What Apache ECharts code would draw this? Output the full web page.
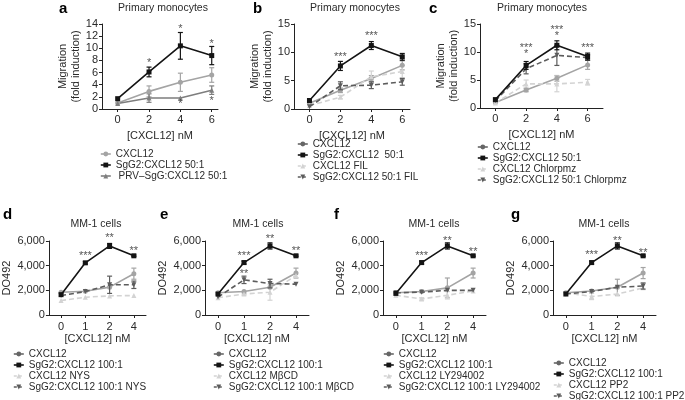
<!DOCTYPE html>
<html><head><meta charset="utf-8">
<script src="https://cdn.jsdelivr.net/npm/echarts@6/dist/echarts.min.js"></script>
<style>html,body{margin:0;padding:0;background:#fff}#c{width:685px;height:400px}</style>
</head><body><div id="c"></div>
<script>
// ---------- DATA ----------
const topX = [0, 2, 4, 6];
const botCats = ['0', '1', '2', '4'];

// Panel a (Migration, fold induction)
const a_CXCL12 = [1.0, 2.9, 4.4, 5.6];      const a_CXCL12_err = [0, 0.9, 1.5, 1.2];
const a_SgG2 = [1.7, 6.1, 10.4, 8.8];       const a_SgG2_err = [0, 0.8, 2.2, 1.5];
const a_PRV = [0.9, 1.8, 1.8, 3.1];         const a_PRV_err = [0, 0.7, 0, 0.7];
const a_notes = [[2, 7.6, '*'], [4, 13.1, '*'], [6, 10.7, '*'], [4, 0.8, '*'], [6, 1.4, '*']];

// Panel b
const b_CXCL12 = [1.0, 3.3, 5.4, 7.7];      const b_CXCL12_err = [0, 0.4, 0.5, 0.8];
const b_SgG2 = [1.5, 7.6, 11.2, 9.2];       const b_SgG2_err = [0, 0.8, 0.7, 0.6];
const b_FIL = [0.6, 2.1, 5.7, 6.6];         const b_FIL_err = [0, 0.3, 1.0, 1.1];
const b_SgG2FIL = [0.4, 4.1, 4.2, 4.8];     const b_SgG2FIL_err = [0, 0.7, 0.6, 0.6];
const b_notes = [[2, 9.2, '***'], [4, 12.8, '***']];

// Panel c
const c_CXCL12 = [1.0, 3.2, 5.3, 7.7];      const c_CXCL12_err = [0, 0.3, 0.5, 0.8];
const c_SgG2 = [1.5, 7.6, 11.2, 9.2];       const c_SgG2_err = [0, 0.7, 0.8, 0.6];
const c_Chl = [0.9, 4.3, 4.3, 4.6];         const c_Chl_err = [0, 0.7, 1.4, 0.5];
const c_SgG2Chl = [1.3, 7.0, 9.4, 9.0];     const c_SgG2Chl_err = [0, 0.9, 1.8, 0.5];
const c_notes = [[2, 10.7, '***'], [2, 9.6, '*'], [4, 14.0, '***'], [4, 12.9, '*'], [6, 10.7, '***']];

// Panel d (MM-1 cells, DO492)
const d_CXCL12 = [1850, 1930, 2260, 3350];  const d_CXCL12_err = [0, 0, 0, 450];
const d_SgG2 = [1650, 4230, 5600, 4800];    const d_SgG2_err = [0, 100, 200, 60];
const d_NYS = [1170, 1440, 1550, 1580];     const d_NYS_err = [0, 0, 0, 0];
const d_SgG2NYS = [1580, 1900, 2450, 2450]; const d_SgG2NYS_err = [0, 0, 700, 300];
const d_notes = [[1, 4750, '***'], [2, 6250, '**'], [3, 5230, '**']];

// Panel e
const e_CXCL12 = [1800, 1900, 2250, 3400];  const e_CXCL12_err = [0, 0, 0, 400];
const e_SgG2 = [1700, 4250, 5600, 4800];    const e_SgG2_err = [0, 120, 250, 60];
const e_MBCD = [1400, 1700, 1850, 3200];    const e_MBCD_err = [0, 100, 650, 0];
const e_SgG2MBCD = [1450, 2850, 2550, 2500];const e_SgG2MBCD_err = [0, 300, 350, 0];
const e_notes = [[1, 4750, '***'], [1, 3350, '**'], [2, 6150, '**'], [3, 5230, '**']];

// Panel f
const f_CXCL12 = [1800, 1900, 2200, 3400];  const f_CXCL12_err = [0, 0, 800, 400];
const f_SgG2 = [1750, 4250, 5600, 4800];    const f_SgG2_err = [0, 120, 250, 60];
const f_LY = [1600, 1300, 1600, 1950];      const f_LY_err = [0, 100, 300, 0];
const f_SgG2LY = [1800, 1850, 2000, 2000];  const f_SgG2LY_err = [0, 0, 0, 0];
const f_notes = [[1, 4780, '***'], [2, 6000, '**'], [3, 5100, '**']];

// Panel g
const g_CXCL12 = [1800, 1950, 2250, 3400];  const g_CXCL12_err = [0, 0, 650, 450];
const g_SgG2 = [1700, 4250, 5600, 4800];    const g_SgG2_err = [0, 120, 250, 60];
const g_PP2 = [1800, 1500, 1700, 2200];     const g_PP2_err = [0, 250, 0, 0];
const g_SgG2PP2 = [1700, 1900, 2250, 2350]; const g_SgG2PP2_err = [0, 0, 0, 250];
const g_notes = [[1, 4830, '***'], [2, 6000, '**'], [3, 5020, '**']];

// ---------- STYLE ----------
const FONT = "'Liberation Sans', Arial, sans-serif";
const AX = '#222', TXT = '#2a2a2a';
const BLACK = '#141414', DARK = '#5c5c5c', MID = '#a4a4a4', LIGHT = '#d3d3d3', PRVC = '#7e7e7e', LEGC = '#666666';
const TRI_DOWN = 'path://M0,0L10,0L5,9Z';

function S(name, data, err, color, symbol, dashed, legendColor, z, size) {
  return {name, data, err, color, symbol, dashed, legendColor: legendColor || color, z: z || 2, size: size || 5};
}

const panels = [
  {id: 'a', top: true, grid: {left: 102, top: 24, width: 116, height: 85}, xmin: -1, xmax: 6.4, ymax: 14, yint: 2,
   letter: [59, 1], title: [163, 3, 'Primary monocytes'], legend: [100, 149], notes: a_notes,
   series: [S('CXCL12', a_CXCL12, a_CXCL12_err, MID, 'circle', false),
            S('SgG2:CXCL12 50:1', a_SgG2, a_SgG2_err, BLACK, 'rect', false, null, 4),
            S(' PRV–SgG:CXCL12 50:1', a_PRV, a_PRV_err, PRVC, 'triangle', false)]},
  {id: 'b', top: true, grid: {left: 294, top: 24, width: 116, height: 85}, xmin: -1, xmax: 6.5, ymax: 15, yint: 5,
   letter: [253, 1], title: [355, 3, 'Primary monocytes'], legend: [297, 139], notes: b_notes,
   series: [S('CXCL12', b_CXCL12, b_CXCL12_err, MID, 'circle', false, LEGC),
            S('SgG2:CXCL12  50:1', b_SgG2, b_SgG2_err, BLACK, 'rect', false, null, 4),
            S('CXCL12 FIL', b_FIL, b_FIL_err, LIGHT, 'triangle', true),
            S('SgG2:CXCL12 50:1 FIL', b_SgG2FIL, b_SgG2FIL_err, DARK, TRI_DOWN, true, null, 3)]},
  {id: 'c', top: true, grid: {left: 480, top: 24, width: 123, height: 84}, xmin: -1, xmax: 7, ymax: 15, yint: 5,
   letter: [429, 1], title: [542, 3, 'Primary monocytes'], legend: [477, 142], notes: c_notes,
   series: [S('CXCL12', c_CXCL12, c_CXCL12_err, MID, 'circle', false, LEGC),
            S('SgG2:CXCL12 50:1', c_SgG2, c_SgG2_err, BLACK, 'rect', false, null, 4),
            S('CXCL12 Chlorpmz', c_Chl, c_Chl_err, LIGHT, 'triangle', true),
            S('SgG2:CXCL12 50:1 Chlorpmz', c_SgG2Chl, c_SgG2Chl_err, DARK, TRI_DOWN, true, null, 3)]},
  {id: 'd', top: false, grid: {left: 46, top: 241, width: 100, height: 74}, ymax: 6000, yint: 2000,
   letter: [3, 207], title: [96, 219, 'MM-1 cells'], legend: [13, 349], notes: d_notes, nameGap: 15,
   series: [S('CXCL12', d_CXCL12, d_CXCL12_err, MID, 'circle', false, LEGC),
            S('SgG2:CXCL12 100:1', d_SgG2, d_SgG2_err, BLACK, 'rect', false, null, 4),
            S('CXCL12 NYS', d_NYS, d_NYS_err, LIGHT, 'triangle', true),
            S('SgG2:CXCL12 100:1 NYS', d_SgG2NYS, d_SgG2NYS_err, DARK, TRI_DOWN, true, null, 3)]},
  {id: 'e', top: false, grid: {left: 205, top: 241, width: 104, height: 74}, ymax: 6000, yint: 2000,
   letter: [160, 207], title: [258, 219, 'MM-1 cells'], legend: [213, 349], notes: e_notes, nameGap: 15,
   series: [S('CXCL12', e_CXCL12, e_CXCL12_err, MID, 'circle', false, LEGC),
            S('SgG2:CXCL12 100:1', e_SgG2, e_SgG2_err, BLACK, 'rect', false, null, 4),
            S('CXCL12 MβCD', e_MBCD, e_MBCD_err, LIGHT, 'triangle', true),
            S('SgG2:CXCL12 100:1 MβCD', e_SgG2MBCD, e_SgG2MBCD_err, DARK, TRI_DOWN, true, null, 3)]},
  {id: 'f', top: false, grid: {left: 383, top: 241, width: 103, height: 74}, ymax: 6000, yint: 2000,
   letter: [334, 207], title: [434, 219, 'MM-1 cells'], legend: [383, 349], notes: f_notes, nameGap: 15,
   series: [S('CXCL12', f_CXCL12, f_CXCL12_err, MID, 'circle', false, LEGC),
            S('SgG2:CXCL12 100:1', f_SgG2, f_SgG2_err, BLACK, 'rect', false, null, 4),
            S('CXCL12 LY294002', f_LY, f_LY_err, LIGHT, 'triangle', true),
            S('SgG2:CXCL12 100:1 LY294002', f_SgG2LY, f_SgG2LY_err, DARK, TRI_DOWN, true, null, 3)]},
  {id: 'g', top: false, grid: {left: 553, top: 241, width: 103, height: 74}, ymax: 6000, yint: 2000,
   letter: [511, 207], title: [604, 219, 'MM-1 cells'], legend: [553, 358], notes: g_notes, nameGap: 18,
   series: [S('CXCL12', g_CXCL12, g_CXCL12_err, MID, 'circle', false, LEGC),
            S('SgG2:CXCL12 100:1', g_SgG2, g_SgG2_err, BLACK, 'rect', false, null, 4),
            S('CXCL12 PP2', g_PP2, g_PP2_err, LIGHT, 'triangle', true),
            S('SgG2:CXCL12 100:1 PP2', g_SgG2PP2, g_SgG2PP2_err, DARK, TRI_DOWN, true, null, 3)]}
];

function makeErr(color) {
  return function (params, api) {
    const x = api.value(0), lo = api.value(1), hi = api.value(2);
    const p1 = api.coord([x, hi]), p2 = api.coord([x, lo]);
    const w = 2.5;
    const st = {stroke: color, lineWidth: 1.2, fill: null};
    return {type: 'group', children: [
      {type: 'line', shape: {x1: p1[0], y1: p1[1], x2: p2[0], y2: p2[1]}, style: st},
      {type: 'line', shape: {x1: p1[0] - w, y1: p1[1], x2: p1[0] + w, y2: p1[1]}, style: st},
      {type: 'line', shape: {x1: p2[0] - w, y1: p2[1], x2: p2[0] + w, y2: p2[1]}, style: st}
    ]};
  };
}

const option = {animation: false, textStyle: {fontFamily: FONT}, title: [], legend: [], grid: [], xAxis: [], yAxis: [], series: []};
const axLine = {show: true, onZero: false, lineStyle: {color: AX, width: 1}};
const tickBase = {show: true, length: 3, inside: false, lineStyle: {color: AX, width: 1}};
const labBase = {color: TXT, fontSize: 11, fontFamily: FONT};
const nameStyle = {color: TXT, fontSize: 11, fontFamily: FONT, lineHeight: 12.5};

panels.forEach((p, i) => {
  option.grid.push(Object.assign({containLabel: false}, p.grid));
  if (p.top) {
    option.xAxis.push({gridIndex: i, type: 'value', min: p.xmin, max: p.xmax,
      axisLine: axLine, splitLine: {show: false},
      axisTick: Object.assign({}, tickBase, {customValues: topX}),
      axisLabel: Object.assign({}, labBase, {customValues: topX, margin: 5}),
      name: '[CXCL12] nM', nameLocation: 'middle', nameGap: 21, nameTextStyle: nameStyle});
    option.yAxis.push({gridIndex: i, type: 'value', min: 0, max: p.ymax, interval: p.yint,
      axisLine: axLine, splitLine: {show: false}, axisTick: tickBase,
      axisLabel: Object.assign({}, labBase, {margin: 4}),
      name: 'Migration\n(fold induction)', nameLocation: 'middle', nameRotate: 90, nameGap: 20, nameTextStyle: nameStyle});
  } else {
    option.xAxis.push({gridIndex: i, type: 'category', data: botCats, boundaryGap: true,
      axisLine: axLine, splitLine: {show: false},
      axisTick: Object.assign({}, tickBase, {alignWithLabel: true}),
      axisLabel: Object.assign({}, labBase, {margin: 6}),
      name: '[CXCL12] nM', nameLocation: 'middle', nameGap: p.nameGap, nameTextStyle: nameStyle});
    option.yAxis.push({gridIndex: i, type: 'value', min: 0, max: p.ymax, interval: p.yint,
      axisLine: axLine, splitLine: {show: false}, axisTick: tickBase,
      axisLabel: Object.assign({}, labBase, {margin: 4, formatter: v => v.toLocaleString('en-US')}),
      name: 'DO492', nameLocation: 'middle', nameRotate: 90, nameGap: 33, nameTextStyle: nameStyle});
  }
  option.title.push({text: p.id, left: p.letter[0], top: p.letter[1], padding: 0,
    textStyle: {fontSize: 15, fontWeight: 'bold', color: '#000', fontFamily: FONT}});
  option.title.push({text: p.title[2], left: p.title[0], top: p.title[1], padding: 0, textAlign: 'center',
    textStyle: {fontSize: 10.5, fontWeight: 'normal', color: TXT, fontFamily: FONT}});

  p.series.forEach(s => {
    const nm = s.name + '#' + p.id;
    const data = p.top ? s.data.map((v, k) => [topX[k], v]) : s.data.slice();
    option.series.push({type: 'line', name: nm, xAxisIndex: i, yAxisIndex: i, data: data,
      symbol: s.symbol, symbolSize: s.size, showSymbol: true, silent: true, clip: false, z: s.z,
      itemStyle: {color: s.color}, lineStyle: {color: s.color, width: 1.6, type: s.dashed ? [5, 3] : 'solid'}});
    const eb = [];
    s.err.forEach((e, k) => { if (e > 0) { const x = p.top ? topX[k] : k; eb.push([x, s.data[k] - e, s.data[k] + e]); } });
    if (eb.length) {
      option.series.push({type: 'custom', xAxisIndex: i, yAxisIndex: i, data: eb, silent: true, z: s.z,
        encode: {x: 0, y: [1, 2]}, renderItem: makeErr(s.color), clip: false});
    }
  });

  option.series.push({type: 'scatter', xAxisIndex: i, yAxisIndex: i, symbolSize: 0, clip: false, silent: true, z: 6,
    data: p.notes.map(n => ({value: [n[0], n[1]], name: n[2]})),
    label: {show: true, position: 'inside', formatter: '{b}', color: TXT, fontSize: 11, fontFamily: FONT}});

  option.legend.push({orient: 'vertical', left: p.legend[0], top: p.legend[1], height: 60, padding: 0,
    itemWidth: 10, itemHeight: 6, itemGap: 1, selectedMode: false,
    textStyle: {fontSize: 10, color: TXT, fontFamily: FONT},
    formatter: n => n.split('#')[0],
    data: p.series.map(s => ({name: s.name + '#' + p.id,
      itemStyle: {color: s.legendColor},
      lineStyle: {color: s.legendColor, width: 1.6, type: s.dashed ? [3, 2] : 'solid'}}))});
});

const chart = echarts.init(document.getElementById('c'), null, {renderer: 'canvas'});
chart.setOption(option);
</script></body></html>
